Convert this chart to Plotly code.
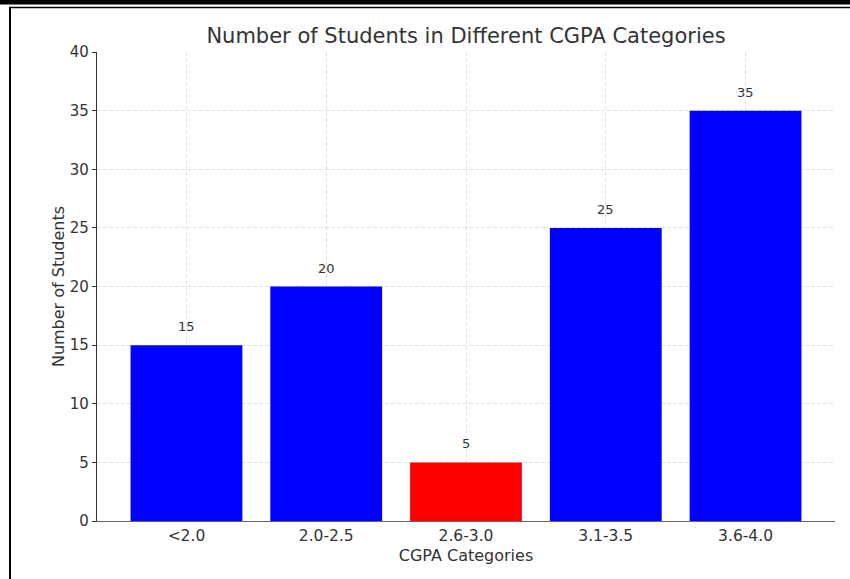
import plotly.graph_objects as go

# CGPA bands and how many students fall in each
categories = ["<2.0", "2.0-2.5", "2.6-3.0", "3.1-3.5", "3.6-4.0"]
students = [15, 20, 5, 25, 35]
bar_colors = ["#0000ff", "#0000ff", "#ff0000", "#0000ff", "#0000ff"]
y_ticks = [0, 5, 10, 15, 20, 25, 30, 35, 40]

FONT = "DejaVu Sans"
TEXT = "#333333"
GRID = "rgba(190,190,190,0.45)"

fig = go.Figure()
fig.add_trace(go.Bar(
    x=list(range(len(categories))),
    y=students,
    width=0.8,
    marker=dict(color=bar_colors, line=dict(width=0)),
    hoverinfo="skip",
))

# value labels above each bar
annotations = []
for i, v in enumerate(students):
    annotations.append(dict(
        x=i, y=v, xref="x", yref="y", text=str(v), showarrow=False,
        yanchor="bottom", yshift=9, font=dict(family=FONT, size=13, color=TEXT),
    ))

# page frame: heavy rule on top, thin rule beneath it, thin rule down the left
plot_l, plot_r, plot_t, plot_b = 97, 835, 52, 521
pw, ph = plot_r - plot_l, plot_b - plot_t


def px(xp):
    return (xp - plot_l) / pw


def py(yp):
    return (plot_b - yp) / ph


shapes = [
    dict(type="rect", xref="paper", yref="paper", x0=px(-5), x1=px(860),
         y0=py(4.5), y1=py(-5), fillcolor="black", line=dict(width=0), layer="above"),
    dict(type="line", xref="paper", yref="paper", x0=px(9), x1=px(860),
         y0=py(7.5), y1=py(7.5), line=dict(color="black", width=1.5), layer="above"),
    dict(type="line", xref="paper", yref="paper", x0=px(10), x1=px(10),
         y0=py(7.5), y1=py(590), line=dict(color="black", width=2), layer="above"),
]

fig.update_layout(
    width=850, height=579,
    margin=dict(l=plot_l, r=850 - plot_r, t=plot_t, b=579 - plot_b),
    paper_bgcolor="white", plot_bgcolor="white",
    showlegend=False,
    bargap=0.2,
    font=dict(family=FONT, color=TEXT),
    title=dict(text="Number of Students in Different CGPA Categories",
               x=(plot_l + plot_r) / 2 / 850, xanchor="center",
               y=1 - 36 / 579, yanchor="middle",
               font=dict(family=FONT, size=21, color=TEXT)),
    annotations=annotations,
    shapes=shapes,
)

fig.update_xaxes(
    range=[-0.64, 4.64],
    tickmode="array", tickvals=list(range(len(categories))), ticktext=categories,
    tickfont=dict(family=FONT, size=15.5, color=TEXT),
    showline=True, linecolor="#666666", linewidth=1.2,
    ticks="",
    showgrid=True, gridcolor=GRID, griddash="4px,2px", gridwidth=1,
    zeroline=False,
    layer="above traces",
    title=dict(text="CGPA Categories", font=dict(family=FONT, size=16, color=TEXT), standoff=6),
)
fig.update_yaxes(
    range=[0, 40],
    tickmode="array", tickvals=y_ticks,
    tickfont=dict(family=FONT, size=15, color=TEXT),
    showline=True, linecolor="#333333", linewidth=1.2,
    ticks="outside", ticklen=4, tickcolor="#333333",
    showgrid=True, gridcolor=GRID, griddash="4px,2px", gridwidth=1,
    zeroline=False,
    layer="above traces",
    title=dict(text="Number of Students", font=dict(family=FONT, size=16, color=TEXT), standoff=1),
)

fig.write_html("out.html")
